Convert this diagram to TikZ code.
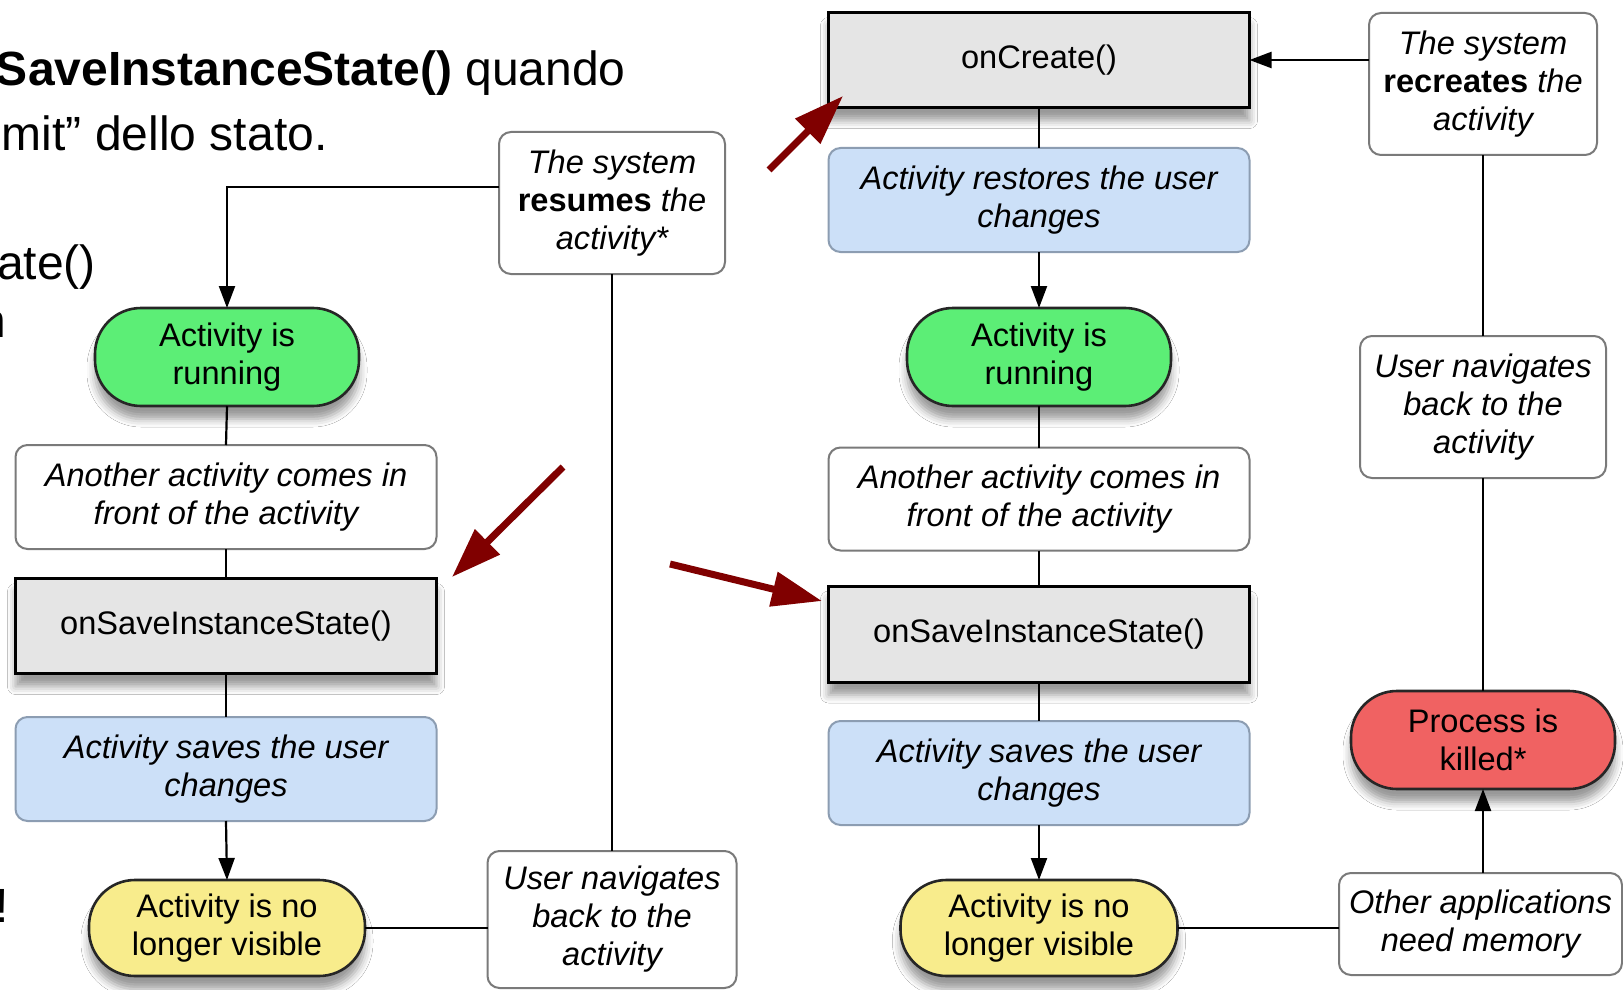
\documentclass[tikz,border=0pt]{standalone}
\usepackage{fontspec}
\setmainfont{Liberation Sans}
\usetikzlibrary{arrows.meta,shadows.blur}

\definecolor{boxgrey}{HTML}{E5E5E5}
\definecolor{rungreen}{HTML}{5CEE76}
\definecolor{lightblue}{HTML}{CCE0F8}
\definecolor{paleyellow}{HTML}{F8EC8C}
\definecolor{killred}{HTML}{F06262}
\definecolor{darkred}{HTML}{800000}
\definecolor{greyline}{HTML}{7A7A7A}
\definecolor{blueline}{HTML}{8C9DB2}

\tikzset{
 every node/.style={inner sep=0pt, outer sep=0pt, align=center, font=\fontsize{16.3}{19}\selectfont},
 shad/.style={blur shadow={shadow xshift=0pt, shadow yshift=-6.5pt, shadow blur radius=4pt, shadow opacity=40}},
 methodbox/.style={shad, draw=black, line width=1.5pt, fill=boxgrey, rectangle},
 stadium/.style={shad, draw=black!85, line width=1.3pt, rounded corners=23pt, rectangle},
 notebox/.style={draw=greyline, line width=1pt, fill=white, rounded corners=6pt, font=\fontsize{16.3}{19}\selectfont\itshape},
 userbox/.style={draw=blueline, line width=1pt, fill=lightblue, rounded corners=6pt, font=\fontsize{16.3}{19}\selectfont\itshape},
 link/.style={draw=black, line width=1.1pt},
 arr/.style={link, -{Triangle[length=11pt,width=8pt]}},
 redarr/.style={draw=darkred, line width=3.5pt, -{Triangle[length=25pt,width=17pt]}},
 slide/.style={anchor=base west, font=\fontsize{24}{28}\selectfont},
}

\begin{document}
\begin{tikzpicture}[x=0.5pt, y=-0.5pt]
\useasboundingbox (0,0) rectangle (1623,990);
\clip (0,0) rectangle (1623,990);
\fill[white] (0,0) rectangle (1623,990);

% slide text fragments
\node[slide] (t1) at (-4,86) {\textbf{SaveInstanceState()} quando};
\node[slide] (t2) at (2,150) {mit” dello stato.};
\node[slide] (t3) at (-3,279) {ate()};
\node[slide] (t4) at (-20,337) {n};
\node[slide] (t5) at (-4,922) {!};

% left column
\node[stadium, fill=rungreen, minimum width=132pt, minimum height=49pt] (lrun) at (227,357) {Activity is\\running};
\node[notebox, minimum width=210.5pt, minimum height=52pt] (lanother) at (226,497) {Another activity comes in\\front of the activity};
\node[methodbox, minimum width=210.5pt, minimum height=47.5pt] (lsave) at (226,626) {onSaveInstanceState()};
\node[userbox, minimum width=210.5pt, minimum height=52pt] (lsaves) at (226,769) {Activity saves the user\\changes};
\node[stadium, fill=paleyellow, minimum width=138pt, minimum height=48pt] (lgone) at (227,928) {Activity is no\\longer visible};
\node[notebox, minimum width=113pt, minimum height=71pt] (resumes) at (612,203) {The system\\{\bfseries\upshape resumes} the\\activity*};
\node[notebox, minimum width=124.5pt, minimum height=68.5pt] (lnav) at (612,919.5) {User navigates\\back to the\\activity};

% right column
\node[methodbox, minimum width=210.5pt, minimum height=47.5pt] (create) at (1039,60) {onCreate()};
\node[userbox, minimum width=210.5pt, minimum height=52pt] (restores) at (1039,200) {Activity restores the user\\changes};
\node[stadium, fill=rungreen, minimum width=132pt, minimum height=49pt] (rrun) at (1039,357) {Activity is\\running};
\node[notebox, minimum width=210.5pt, minimum height=51.5pt] (ranother) at (1039,499) {Another activity comes in\\front of the activity};
\node[methodbox, minimum width=210.5pt, minimum height=48pt] (rsave) at (1039,634) {onSaveInstanceState()};
\node[userbox, minimum width=210.5pt, minimum height=52pt] (rsaves) at (1039,773) {Activity saves the user\\changes};
\node[stadium, fill=paleyellow, minimum width=138.5pt, minimum height=48pt] (rgone) at (1039,928) {Activity is no\\longer visible};

% far right column
\node[notebox, minimum width=114pt, minimum height=71pt] (recreates) at (1483,84) {The system\\{\bfseries\upshape recreates} the\\activity};
\node[notebox, minimum width=123pt, minimum height=71pt] (rnav) at (1483,407) {User navigates\\back to the\\activity};
\node[stadium, fill=killred, minimum width=132pt, minimum height=49pt] (killed) at (1483,740) {Process is\\killed*};
\node[notebox, minimum width=141.5pt, minimum height=51pt] (other) at (1480.5,924) {Other applications\\need memory};

% left connectors
\draw[arr] ([yshift=8pt]resumes.west) -| (lrun.north);
\draw[link] (resumes.south) -- (lnav.north);
\draw[link] (lrun.south) -- (lanother.north);
\draw[link] (lanother.south) -- (lsave.north);
\draw[link] (lsave.south) -- (lsaves.north);
\draw[arr] (lsaves.south) -- (lgone.north);
\draw[link] (lgone.east) -- (lgone.east -| lnav.west);

% right connectors
\draw[link] (create.south) -- (restores.north);
\draw[arr] (restores.south) -- (rrun.north);
\draw[link] (rrun.south) -- (ranother.north);
\draw[link] (ranother.south) -- (rsave.north);
\draw[link] (rsave.south) -- (rsaves.north);
\draw[arr] (rsaves.south) -- (rgone.north);
\draw[link] (rgone.east) -- (rgone.east -| other.west);
\draw[arr] (other.north -| killed.south) -- (killed.south);
\draw[link] (killed.north) -- (rnav.south);
\draw[link] (rnav.north) -- (recreates.south);
\draw[arr] ([yshift=12pt]recreates.west) -- ([yshift=12pt]recreates.west -| create.east);

% red pointer arrows
\coordinate (r1s) at (563,467);
\coordinate (r1e) at (452,577);
\coordinate (r2s) at (670,564);
\coordinate (r2e) at (822,601);
\coordinate (r3s) at (769,170);
\coordinate (r3e) at (843,96);
\draw[redarr] (r1s) -- (r1e);
\draw[redarr] (r2s) -- (r2e);
\draw[redarr] (r3s) -- (r3e);
\end{tikzpicture}
\end{document}
